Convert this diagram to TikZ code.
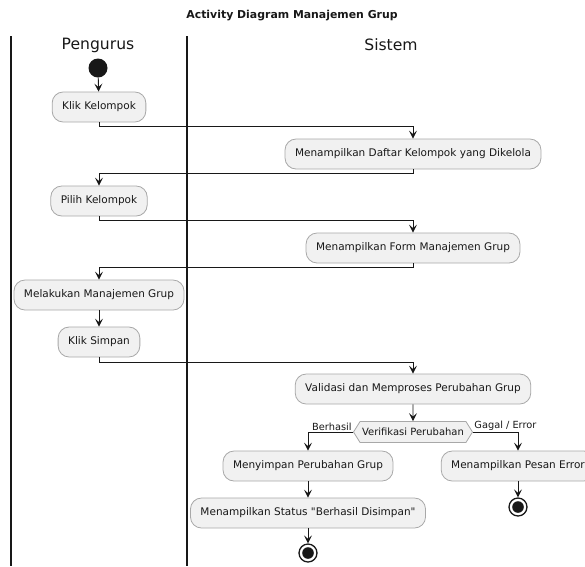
\documentclass[tikz,border=0pt]{standalone}
\usepackage{fontspec}
\setmainfont{DejaVu Sans}[Ligatures=TeXOff]
\usetikzlibrary{arrows.meta,shapes.symbols}

\definecolor{boxfill}{HTML}{F1F1F1}
\definecolor{boxline}{HTML}{A8A8A8}
\definecolor{ink}{HTML}{181818}

\tikzset{
  act/.style={draw=boxline, fill=boxfill, rounded corners=11pt, line width=0.8pt,
    minimum height=30pt, inner xsep=10pt, inner ysep=0pt, font=\fontsize{10.5}{12}\selectfont, text=ink},
  flow/.style={draw=ink, line width=0.9pt, -{Stealth[length=8pt,width=8pt,inset=3.5pt]}},
  lane/.style={draw=ink, line width=1.4pt},
  lanetitle/.style={font=\fontsize{15.6}{18}\selectfont, text=ink},
  startdot/.style={circle, fill=ink, minimum size=19pt, inner sep=0pt},
  stopring/.style={circle, draw=ink, line width=1.3pt, fill=white, minimum size=18pt, inner sep=0pt,
    path picture={\fill[ink] (path picture bounding box.center) circle (5.8pt);}},
  decide/.style={signal, signal to=east and west, signal pointer angle=116, draw=boxline, fill=boxfill,
    line width=0.8pt, inner xsep=2pt, inner ysep=2pt, minimum height=21pt, font=\fontsize{10}{11}\selectfont, text=ink},
  guard/.style={font=\fontsize{9.8}{11}\selectfont, text=ink, inner sep=1pt},
}

\begin{document}
\begin{tikzpicture}[x=1pt,y=-1pt]
\useasboundingbox (0,0) rectangle (585,566);
\clip (0,0) rectangle (585,566);

% title and swimlanes
\node[font=\bfseries\fontsize{10.9}{13}\selectfont, text=ink] (title) at (292,16) {Activity Diagram Manajemen Grup};
\draw[lane] (11,36) coordinate (l0) -- (11,566) coordinate (l0b);
\draw[lane] (187,36) coordinate (l1) -- (187,566) coordinate (l1b);
\node[lanetitle] (pengurus) at (98,45) {Pengurus};
\node[lanetitle] (sistem) at (391,45) {Sistem};

% activities
\node[startdot] (start) at (98,68) {};
\node[act] (klik) at (99,107) {Klik Kelompok};
\node[act] (daftar) at (413,154) {Menampilkan Daftar Kelompok yang Dikelola};
\node[act] (pilih) at (99,201) {Pilih Kelompok};
\node[act] (form) at (413,248) {Menampilkan Form Manajemen Grup};
\node[act] (kelola) at (99,295) {Melakukan Manajemen Grup};
\node[act] (simpan) at (99,342) {Klik Simpan};
\node[act] (validasi) at (413,389) {Validasi dan Memproses Perubahan Grup};
\node[decide] (verif) at (413,432) {Verifikasi Perubahan};
\node[act] (menyimpan) at (308,466) {Menyimpan Perubahan Grup};
\node[act] (status) at (308,513) {Menampilkan Status "Berhasil Disimpan"};
\node[stopring] (endok) at (308,553) {};
\node[act] (pesan) at (518,466) {Menampilkan Pesan Error};
\node[stopring] (enderr) at (518,507) {};

% control flow
\draw[flow] (start) -- (klik);
\draw[flow] (klik.south) -- ++(0,4) -| (daftar.north);
\draw[flow] (daftar.south) -- ++(0,4) -| (pilih.north);
\draw[flow] (pilih.south) -- ++(0,4) -| (form.north);
\draw[flow] (form.south) -- ++(0,4) -| (kelola.north);
\draw[flow] (kelola) -- (simpan);
\draw[flow] (simpan.south) -- ++(0,5) -| (validasi.north);
\draw[flow] (validasi) -- (verif);
\draw[flow] (verif.west) -| (menyimpan.north)
  node[guard, pos=0.0, anchor=south east] (ok) {Berhasil};
\draw[flow] (verif.east) -| (pesan.north)
  node[guard, pos=0.0, anchor=south west] (err) {Gagal / Error};
\draw[flow] (menyimpan) -- (status);
\draw[flow] (status) -- (endok);
\draw[flow] (pesan) -- (enderr);
\end{tikzpicture}
\end{document}
